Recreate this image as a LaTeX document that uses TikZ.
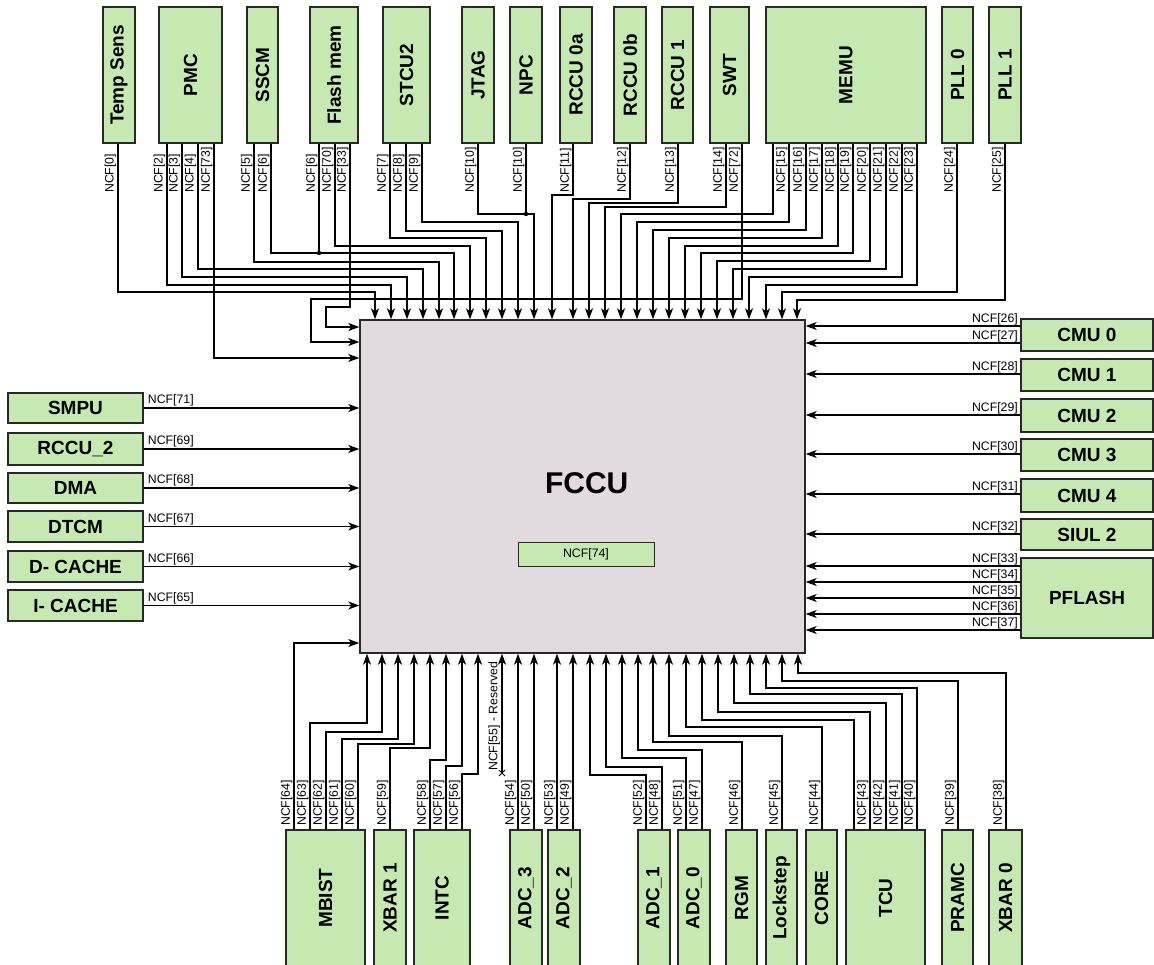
\documentclass[tikz,border=0pt]{standalone}
\usepackage{fontspec}
\setmainfont{Liberation Sans}
\usepackage{graphicx}
\usetikzlibrary{arrows.meta}
\definecolor{boxgreen}{RGB}{197,233,176}
\definecolor{fccufill}{RGB}{227,218,223}
\definecolor{bordercol}{RGB}{40,40,40}
\tikzset{
  gbox/.style={draw=bordercol, line width=1.4pt, fill=boxgreen, inner sep=0pt,
    font=\bfseries\fontsize{19}{19}\selectfont},
  conn/.style={line width=1.3pt, draw=black},
  arr/.style={conn, -{Stealth[length=11pt,width=8pt,inset=3pt]}},
  lab/.style={font=\fontsize{12.3}{12.3}\selectfont, inner sep=0pt},
  vlab/.style={lab, rotate=90, anchor=south west},
  rlab/.style={lab, anchor=south east},
  llab/.style={lab, anchor=south west},
}
\begin{document}
\begin{tikzpicture}[x=1pt,y=-1pt]
\useasboundingbox (0,0) rectangle (1154,964);
\clip (0,0) rectangle (1154,964);
\fill[white] (0,0) rectangle (1154,964);

% FCCU
\node[draw=bordercol, line width=1.4pt, fill=fccufill, minimum width=445, minimum height=333, inner sep=0pt] (fccu) at (582.5,486.5) {};
\node[font=\bfseries\fontsize{30}{30}\selectfont] (fccutxt) at (586.7,482.7) {FCCU};
\node[gbox, line width=1pt, font=\fontsize{12.3}{12.3}\selectfont, minimum width=136, minimum height=24] (n74) at (586,554) {NCF[74]};

% top boxes
\foreach \n/\cx/\w/\t in {temp/119/32/Temp Sens, pmc/190.5/63/PMC, sscm/262.5/31/SSCM, flash/334/48/Flash mem, stcu/406.5/47/STCU2, jtag/478/32/JTAG, npc/526/32/NPC, rccua/576/32/RCCU 0a, rccub/630/32/RCCU 0b, rccuc/677.5/31/RCCU 1, swt/729.5/39/SWT, memu/846/160/MEMU, pll0/957.5/31/PLL 0, pll1/1005/32/PLL 1}
  \node[gbox, minimum width=\w, minimum height=136] (\n) at (\cx,75) {\rotatebox{90}{\t}};

% bottom boxes
\foreach \n/\cx/\w/\t in {mbist/325.5/79/MBIST, xbar1/390/32/XBAR 1, intc/442/56/INTC, adc3/526/32/ADC\_3, adc2/564/32/ADC\_2, adc1/654/32/ADC\_1, adc0/694/32/ADC\_0, rgm/741.5/31/RGM, lock/781.5/31/Lockstep, core/821.5/31/CORE, tcu/885.5/79/TCU, pramc/957.5/31/PRAMC, xbar0/1005.5/33/XBAR 0}
  \node[gbox, minimum width=\w, minimum height=136] (\n) at (\cx,898) {\rotatebox{90}{\t}};

% right boxes
\foreach \n/\cy/\h/\t in {cmu0/335/32/CMU 0, cmu1/375/32/CMU 1, cmu2/415.5/33/CMU 2, cmu3/455/32/CMU 3, cmu4/495.5/33/CMU 4, siul/534.5/31/SIUL 2, pflash/598/80/PFLASH}
  \node[gbox, minimum width=132, minimum height=\h] (\n) at (1087,\cy) {\t};

% left boxes
\foreach \n/\cy/\h/\t in {smpu/408/30/SMPU, rccu2/449/32/RCCU\_2, dma/488/30/DMA, dtcm/526.5/31/DTCM, dcache/566.5/31/D- CACHE, icache/605.5/31/I- CACHE}
  \node[gbox, minimum width=135, minimum height=\h] (\n) at (75.5,\cy) {\t};

% top connectors
\foreach \sx/\ly/\ax/\b in {118/292/375/temp, 167/285/391/pmc, 182/277/407/pmc, 198/269/423/pmc, 254/262/439/sscm, 271/253/454/sscm, 335/246/470/flash, 390/238/486/stcu, 406/231/502/stcu, 422/222/518/stcu, 478/214/534/jtag, 573/195/552/rccua, 630/199/573/rccub, 678/203/589/rccuc, 726/207/605/swt, 773/214/621/memu, 789/222/637/memu, 806/230/653/memu, 822/238/669/memu, 838/246/685/memu, 853/253/701/memu, 870/261/717/memu, 886/269/733/memu, 902/277/749/memu, 917/285/766/memu, 957/292/782/pll0, 1005/300/797/pll1}
  \draw[arr] (\sx,0 |- \b.south) |- (\ax,\ly) -- (\ax,0 |- fccu.north);
\draw[conn] (319,0 |- flash.south) -- (319,253);
\fill (319,253) circle[radius=2.2pt];
\draw[conn] (npc.south) -- (526,214);
\fill (526,214) circle[radius=2.2pt];
\draw[arr] (214,0 |- pmc.south) |- (fccu.west |- 0,358);
\draw[arr] (350,0 |- flash.south) |- (326,307) |- (fccu.west |- 0,327);
\draw[arr] (742,0 |- swt.south) |- (311,299) |- (fccu.west |- 0,342);

% top labels
\foreach \x/\t in {118/0, 167/2, 182/3, 198/4, 214/73, 254/5, 271/6, 319/6, 335/70, 350/33, 390/7, 406/8, 422/9, 478/10, 526/10, 573/11, 630/12, 678/13, 726/14, 742/72, 789/15, 806/16, 822/17, 838/18, 853/19, 870/20, 886/21, 902/22, 917/23, 957/24, 1005/25}
  \node[vlab] at (\x-1.5,193) {NCF[\t]};

% bottom connectors
\foreach \sx/\ly/\ax/\b in {310/723/367/mbist, 326/732/382/mbist, 342/739/398/mbist, 358/744/414/mbist, 390/748/430/xbar1, 430/760/446/intc, 446/766/462/intc, 462/774/478/intc, 646/775/590/adc1, 662/767/606/adc1, 686/758/622/adc0, 702/750/638/adc0, 742/742/653/rgm, 782/736/669/lock, 822/727/686/core, 854/720/702/tcu, 870/712/718/tcu, 886/703/734/tcu, 902/694/750/tcu, 917/688/766/tcu, 958/681/782/pramc, 1006/673/798/xbar0}
  \draw[arr] (\sx,0 |- \b.north) |- (\ax,\ly) -- (\ax,0 |- fccu.south);
\foreach \sx/\b in {518/adc3, 534/adc3, 557/adc2, 573/adc2}
  \draw[arr] (\sx,0 |- \b.north) -- (\sx,0 |- fccu.south);
\draw[arr] (294,0 |- mbist.north) |- (fccu.west |- 0,643);
\coordinate (r55) at (502,773);
\draw[arr] (r55) -- (r55 |- fccu.south);
\draw[line width=1pt] (499,770) -- (505,776) (499,776) -- (505,770);
\node[vlab] (l55) at (500,771) {NCF[55] - Reserved};

% bottom labels
\foreach \x/\t in {294/64, 310/63, 326/62, 342/61, 358/60, 390/59, 430/58, 446/57, 462/56, 518/54, 534/50, 557/53, 573/49, 646/52, 662/48, 686/51, 702/47, 742/46, 782/45, 822/44, 870/43, 886/42, 902/41, 917/40, 958/39, 1006/38}
  \node[vlab] at (\x-1.5,826) {NCF[\t]};

% right connectors
\foreach \y/\b/\t in {326/cmu0/26, 343/cmu0/27, 374/cmu1/28, 415/cmu2/29, 454/cmu3/30, 494/cmu4/31, 534/siul/32, 566/pflash/33, 582/pflash/34, 598/pflash/35, 614/pflash/36, 630/pflash/37}
{
  \draw[arr] (\b.west |- 0,\y) -- (fccu.east |- 0,\y);
  \node[rlab] at (1018,\y-1.2) {NCF[\t]};
}

% left connectors
\foreach \b/\t in {smpu/71, rccu2/69, dma/68, dtcm/67, dcache/66, icache/65}
{
  \draw[arr] (\b.east) -- (\b.east -| fccu.west);
  \node[llab] at ([shift={(4,-1.5)}]\b.east) {NCF[\t]};
}
\end{tikzpicture}
\end{document}
